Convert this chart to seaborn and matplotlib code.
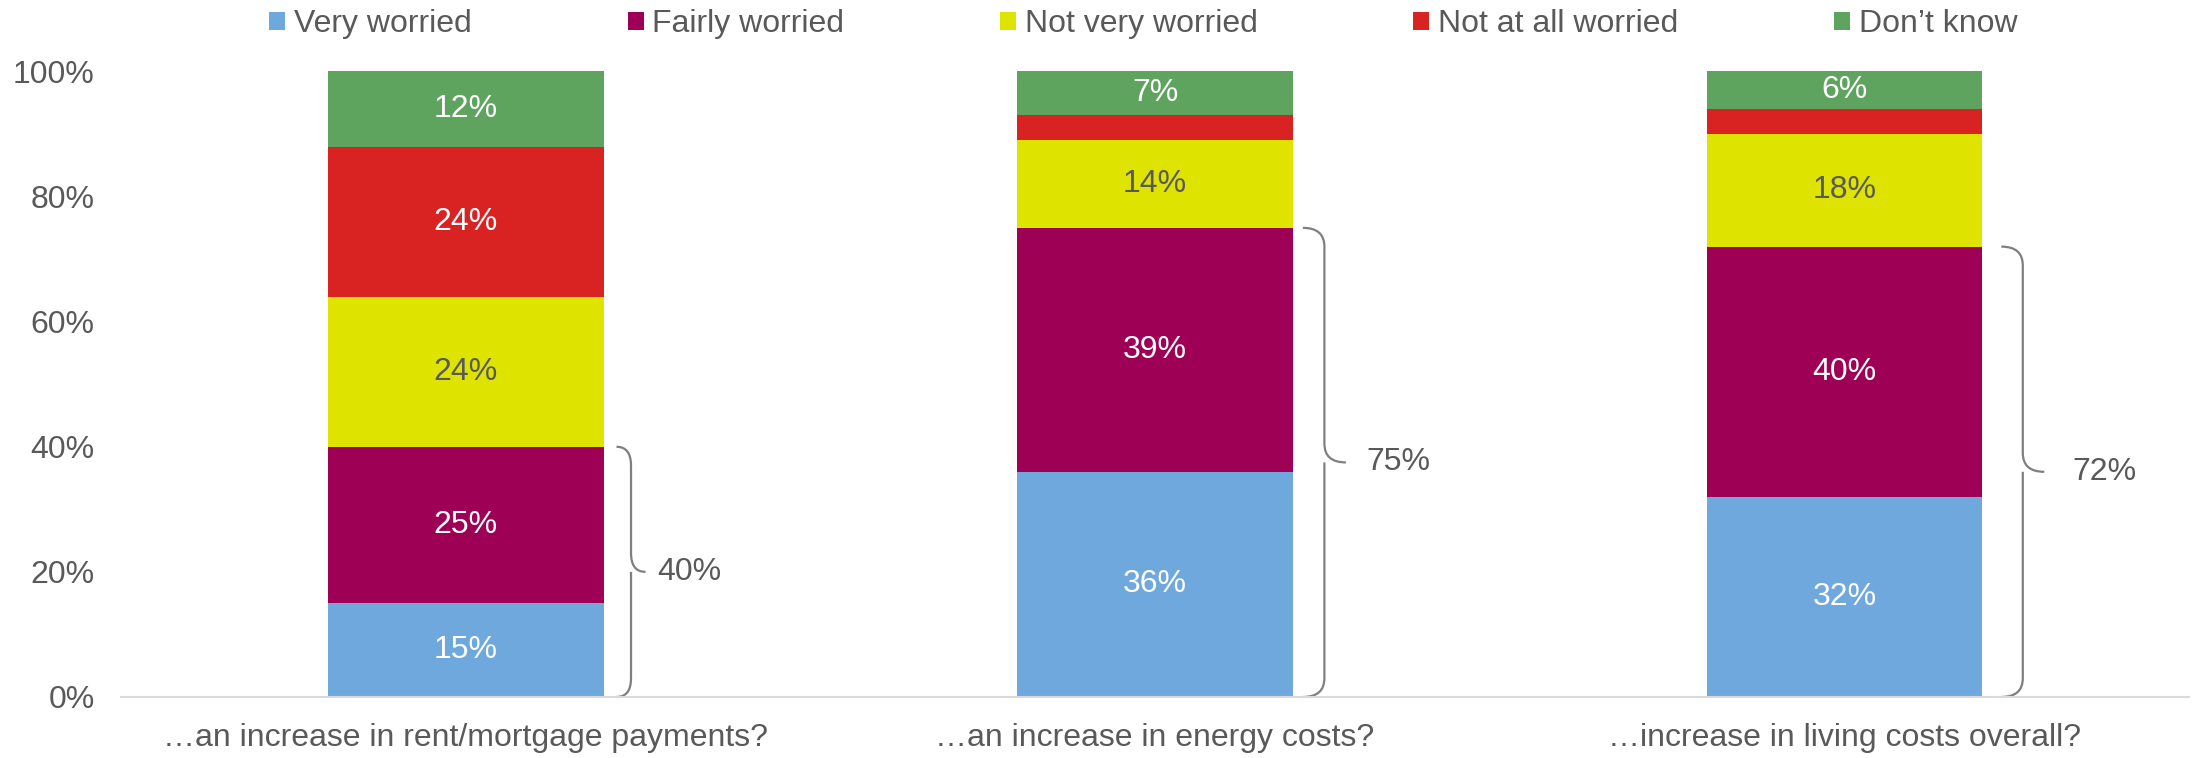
import matplotlib
matplotlib.use("Agg")
import matplotlib.pyplot as plt
import seaborn as sns
from matplotlib.path import Path
from matplotlib.patches import PathPatch, Patch

# ---------------- data ----------------
categories = ["…an increase in rent/mortgage payments?",
              "…an increase in energy costs?",
              "…increase in living costs overall?"]
series_names = ["Very worried", "Fairly worried", "Not very worried",
                "Not at all worried", "Don’t know"]
very_worried = [15, 36, 32]
fairly_worried = [25, 39, 40]
not_very_worried = [24, 14, 18]
not_at_all_worried = [24, 4, 4]
dont_know = [12, 7, 6]
# which segment values are printed (small red ones are not labelled)
label_shown = [[True, True, True],
               [True, True, True],
               [True, True, True],
               [True, False, False],
               [True, True, True]]
bracket_totals = [40, 75, 72]   # very + fairly worried
y_ticks = [0, 20, 40, 60, 80, 100]
y_tick_labels = ["0%", "20%", "40%", "60%", "80%", "100%"]

series_values = [very_worried, fairly_worried, not_very_worried,
                 not_at_all_worried, dont_know]
colors = ["#6FA8DC", "#9E0056", "#DFE300", "#D92323", "#5EA35E"]
text_colors = ["white", "white", "#595959", "white", "white"]
grey = "#595959"

# brace layout (in pixels, per bar): gap from bar, brace width, label gap
brace_gap_px = [13, 10, 19]
brace_w_px = [29, 43, 43]
label_gap_px = [12, 20, 28]

# ---------------- style ----------------
sns.set_theme(style="white")
plt.rcParams["font.family"] = ["Liberation Sans", "DejaVu Sans"]
FS = 23

fig = plt.figure(figsize=(21.99, 7.58), dpi=100)
ax = fig.add_axes([0.055, 0.0805, 0.9405, 0.8252])

bottoms = [0, 0, 0]
bar_w = 0.4
for vals, col, tcol, name, shown in zip(series_values, colors, text_colors,
                                       series_names, label_shown):
    sns.barplot(x=categories, y=vals, bottom=bottoms, color=col, width=bar_w,
                linewidth=0, edgecolor=col, saturation=1, ax=ax, label=name)
    cont = ax.containers[-1]
    labels = [f"{v}%" if s else "" for v, s in zip(vals, shown)]
    ax.bar_label(cont, labels=labels, label_type="center", color=tcol,
                 fontsize=FS)
    bottoms = [b + v for b, v in zip(bottoms, vals)]

ax.set_xlim(-0.5, 2.5)
ax.set_ylim(0, 100)
ax.set_yticks(y_ticks)
ax.set_yticklabels(y_tick_labels)
ax.tick_params(axis="y", labelsize=FS, colors=grey, length=0, pad=19)
ax.tick_params(axis="x", labelsize=FS, colors=grey, length=0, pad=19)
for lab in ax.get_yticklabels() + ax.get_xticklabels():
    lab.set_color(grey)
ax.set_xlabel("")
ax.set_ylabel("")
for s in ["left", "right", "top"]:
    ax.spines[s].set_visible(False)
ax.spines["bottom"].set_color("#D9D9D9")
ax.spines["bottom"].set_linewidth(1.5)
ax.grid(False)
if ax.get_legend() is not None:
    ax.get_legend().remove()

px_per_unit = ax.get_position().width * fig.get_figwidth() * fig.dpi / 3.0


# ---------------- braces ----------------
def draw_brace(ax, x0, top, bot, width, r=3.0):
    x1 = x0 + width / 2
    x2 = x0 + width
    mid = (top + bot) / 2
    verts = [(x0, top), (x1, top), (x1, top - r),
             (x1, mid + r),
             (x1, mid), (x2, mid),
             (x1, mid), (x1, mid - r),
             (x1, bot + r),
             (x1, bot), (x0, bot)]
    codes = [Path.MOVETO, Path.CURVE3, Path.CURVE3,
             Path.LINETO,
             Path.CURVE3, Path.CURVE3,
             Path.MOVETO, Path.CURVE3,
             Path.LINETO,
             Path.CURVE3, Path.CURVE3]
    ax.add_patch(PathPatch(Path(verts, codes), fill=False, edgecolor="#7F7F7F",
                           lw=1.6, clip_on=False))
    return x2, mid


for i, tot in enumerate(bracket_totals):
    x_edge = i + bar_w / 2 + brace_gap_px[i] / px_per_unit
    xt, ym = draw_brace(ax, x_edge, tot, 0, brace_w_px[i] / px_per_unit)
    ax.text(xt + label_gap_px[i] / px_per_unit, ym, f"{tot}%", ha="left",
            va="center", fontsize=FS, color=grey)

# ---------------- legend ----------------
handles = [Patch(facecolor=c, edgecolor="none") for c in colors]
fig.legend(handles, series_names, loc="center", ncol=5,
           bbox_to_anchor=(0.52, 0.9677), frameon=False, fontsize=FS,
           labelcolor=grey, handlelength=0.5, handleheight=0.5,
           handletextpad=0.28, columnspacing=4.87, borderpad=0)

fig.savefig("out.png", dpi=100)
